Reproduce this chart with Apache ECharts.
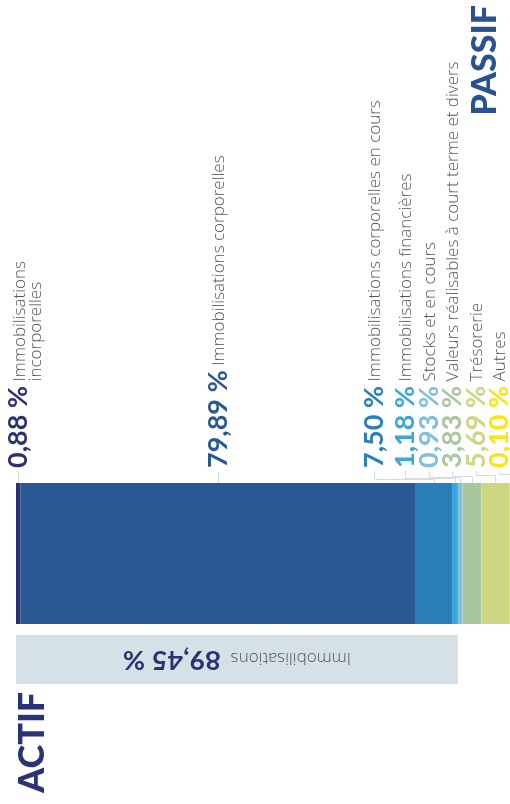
<!DOCTYPE html>
<html>
<head>
<meta charset="utf-8">
<script src="https://cdn.jsdelivr.net/npm/echarts@6/dist/echarts.min.js"></script>
<style>
html, body { margin: 0; padding: 0; background: #fff; }
#main { width: 510px; height: 804px; }
</style>
</head>
<body>
<div id="main"></div>
<script>
// actif breakdown, in % of total
var names = [
  "Immobilisations\nincorporelles",
  "Immobilisations corporelles",
  "Immobilisations corporelles en cours",
  "Immobilisations financières",
  "Stocks et en cours",
  "Valeurs réalisables à court terme et divers",
  "Trésorerie",
  "Autres"
];
var values = [0.88, 79.89, 7.5, 1.18, 0.93, 3.83, 5.69, 0.1];
var colors = ["#2b3273", "#2a5893", "#2a7fb8", "#3aa6dc", "#7fbfda", "#a9c79f", "#ccd683", "#f5e614"];

// grouped total under the bar
var totalName = "Immobilisations";
var totalValue = 89.45;

var titleTop = "PASSIF";
var titleBottom = "ACTIF";

var pctFont = "Lato";
var nameFont = "Open Sans";
var barTop = 483;

function fmt(v) {
  return v.toFixed(2).replace(".", ",") + "\u202f%";
}

var chart = echarts.init(document.getElementById("main"));

var series = values.map(function(v, i) {
  return {
    name: names[i],
    type: "bar",
    stack: "actif",
    xAxisIndex: 0,
    yAxisIndex: 0,
    barWidth: "100%",
    silent: true,
    itemStyle: { color: colors[i] },
    data: [v]
  };
});

series.push({
  name: totalName,
  type: "bar",
  xAxisIndex: 1,
  yAxisIndex: 1,
  barWidth: "100%",
  silent: true,
  itemStyle: { color: "#d6e0e7" },
  label: {
    show: true,
    position: "inside",
    rotate: 180,
    formatter: "{n|" + totalName + "}   {p|" + fmt(totalValue) + "}",
    rich: {
      n: { fontFamily: nameFont, fontWeight: 300, fontSize: 17, color: "#555", verticalAlign: "bottom", padding: [0, 0, 3, 0] },
      p: { fontFamily: pctFont, fontWeight: "bold", fontSize: 27, color: "#2b3273", verticalAlign: "bottom" }
    }
  },
  data: [totalValue]
});

chart.setOption({
  backgroundColor: "#ffffff",
  animation: false,
  grid: [
    { left: 16, right: 0, top: barTop, height: 141 },
    { left: 16, right: 0, top: 635, height: 49 }
  ],
  xAxis: [
    { type: "value", gridIndex: 0, min: 0, max: 100, show: false },
    { type: "value", gridIndex: 1, min: 0, max: 100, show: false }
  ],
  yAxis: [
    { type: "category", gridIndex: 0, data: ["actif"], show: false },
    { type: "category", gridIndex: 1, data: ["total"], show: false }
  ],
  series: series
});

// label columns above the bar, with leader lines
var ctx = document.createElement("canvas").getContext("2d");
var cum = 0;
var centers = [];
values.forEach(function(v) {
  centers.push(chart.convertToPixel({ xAxisIndex: 0 }, cum + v / 2));
  cum += v;
});

var pos = centers.slice();
var rightLimit = 499;
var gap = 23.5;
pos[values.length - 1] = Math.min(centers[values.length - 1], rightLimit);
for (var i = values.length - 2; i >= 2; i--) {
  pos[i] = Math.min(centers[i], pos[i + 1] - gap);
}
pos[2] -= 8; // a little more room before the small ones

var labelY = 468;
var graphics = [];

values.forEach(function(v, i) {
  var lines = names[i].split("\n");
  ctx.font = "bold 27px " + pctFont;
  var pw = ctx.measureText(fmt(v)).width;
  var text = "{p|" + fmt(v) + "}{n| " + lines[0] + "}";
  if (lines[1]) text += "\n{g|}{n| " + lines[1] + "}";

  graphics.push({
    type: "text",
    x: pos[i] - 14,
    y: labelY,
    rotation: Math.PI / 2,
    silent: true,
    style: {
      text: text,
      align: "left",
      verticalAlign: "top",
      rich: {
        p: { fontFamily: pctFont, fontWeight: "bold", fontSize: 27, lineHeight: 28, fill: colors[i], verticalAlign: "bottom" },
        n: { fontFamily: nameFont, fontWeight: 300, fontSize: 17, lineHeight: 16, fill: "#555", verticalAlign: "bottom", padding: [0, 0, 4, 0] },
        g: { width: pw, lineHeight: 16 }
      }
    }
  });

  var lx = Math.round(pos[i]) + 0.5;
  var cx = Math.round(centers[i]) + 0.5;
  var pts;
  if (i < 2) {
    pts = [[lx, labelY + 3], [lx, barTop]];
  } else {
    var ey = 474.5 + (values.length - 1 - i);
    pts = [[lx, labelY + 3], [lx, ey], [cx, ey], [cx, barTop]];
  }
  graphics.push({
    type: "polyline",
    silent: true,
    shape: { points: pts },
    style: { stroke: "#d3dde5", lineWidth: 1, fill: null }
  });
});

graphics.push({
  type: "text",
  x: 485,
  y: 5,
  rotation: Math.PI / 2,
  silent: true,
  style: {
    text: titleTop,
    align: "right",
    verticalAlign: "middle",
    fontFamily: pctFont,
    fontWeight: 900,
    fontSize: 34,
    fill: "#2a5190"
  }
});

graphics.push({
  type: "text",
  x: 32,
  y: 793,
  rotation: Math.PI / 2,
  silent: true,
  style: {
    text: titleBottom,
    align: "left",
    verticalAlign: "middle",
    fontFamily: pctFont,
    fontWeight: 900,
    fontSize: 36,
    fill: "#2b3378"
  }
});

chart.setOption({ graphic: graphics });

window.onresize = function() {
  chart.resize();
};
</script>
</body>
</html>
